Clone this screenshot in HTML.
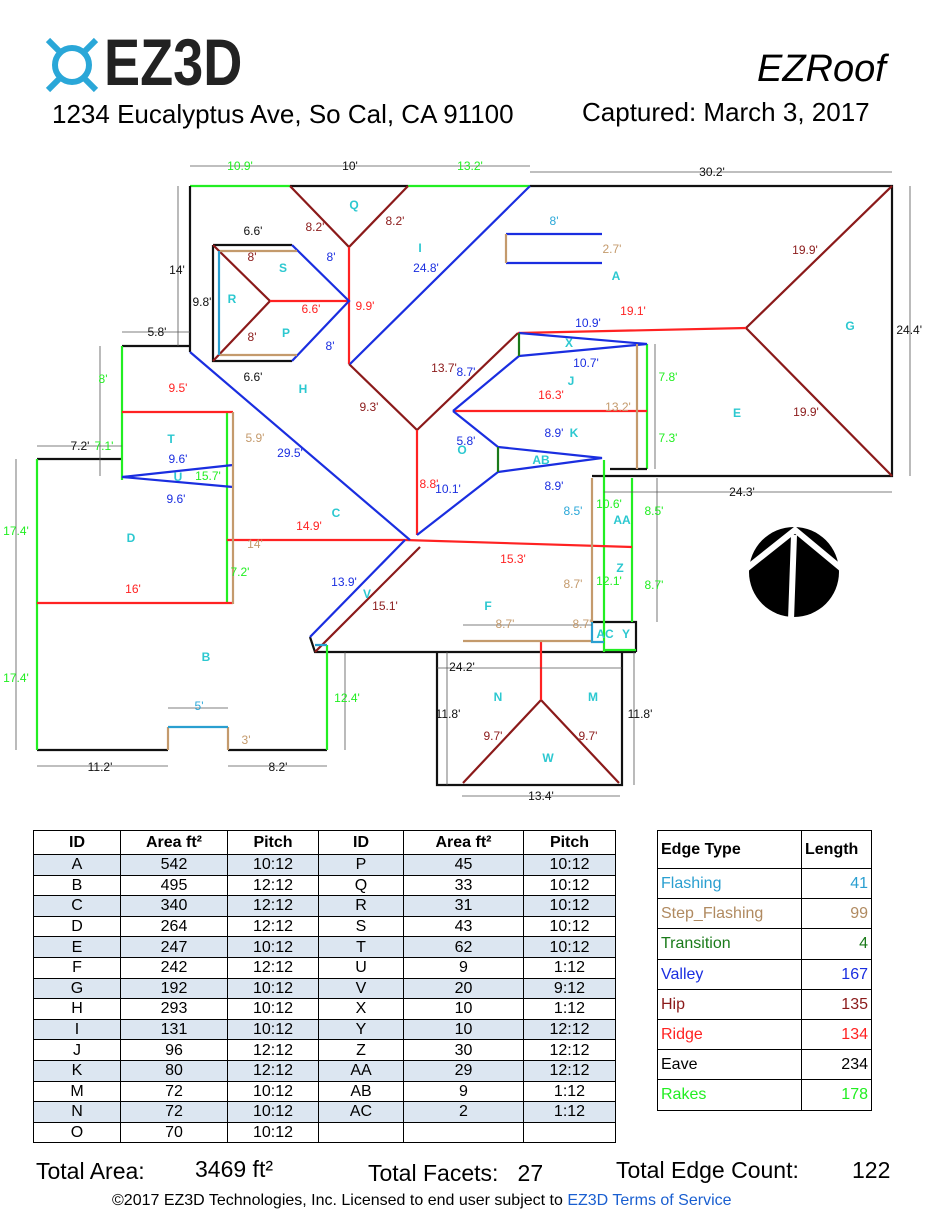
<!DOCTYPE html>
<html><head><meta charset="utf-8"><style>
body{margin:0;width:926px;height:1200px;overflow:hidden;background:#fff;font-family:"Liberation Sans",sans-serif;position:relative}
.t{position:absolute;white-space:nowrap}
table{border-collapse:collapse;position:absolute;font-size:16px;table-layout:fixed}
td{border:1px solid #000;text-align:center;padding:0;height:19.6px;line-height:19px}
tr.s td{background:#dce6f1}
th{border:1px solid #000;font-weight:bold;height:21px;font-size:16px}
#et td{height:29.2px;text-align:left;padding-left:3px;font-size:16px}
#et td.n{text-align:right;padding-right:3px}
</style></head><body>
<svg width="70" height="70" style="position:absolute;left:40px;top:32px">
<circle cx="32" cy="33" r="17" fill="none" stroke="#2aa7d8" stroke-width="6"/>
<path d="M8 8l11 11M56 8l-11 11M8 58l11-11M56 58l-11-11" stroke="#2aa7d8" stroke-width="6"/>
</svg>
<div class="t" style="left:104px;top:28px;font-size:66px;line-height:68px;color:#222;font-weight:bold;transform:scaleX(0.82);transform-origin:0 0">EZ3D</div>
<div class="t" style="left:757px;top:48px;font-size:38px;font-style:italic">EZRoof</div>
<div class="t" style="left:52px;top:99px;font-size:26px">1234 Eucalyptus Ave, So Cal, CA 91100</div>
<div class="t" style="left:582px;top:97px;font-size:26px">Captured: March 3, 2017</div>

<svg width="926" height="820" style="position:absolute;left:0;top:0" font-family="Liberation Sans" font-size="12">
<g fill="none" stroke-width="2.2">
<path d="M190 186H290M408 186H530" stroke="#2e2"/>
<path d="M290 186H408M530 186H892V476H592M190 186V352M122 346H190M37 459H122M37 750H168M228 750H327M310 637L315 652H636M437 652V785H622V652M592 622H636V652" stroke="#111"/>
<path d="M122 346V480M37 459V750M327 645V750M604 460V652M632 478V622M647 344V469M604 650H636M227 412V604" stroke="#2e2"/>
<path d="M213 245H292M213 245V361H292M610 469H647" stroke="#111"/>
<path d="M290 186L349 247L408 186M892 186L746 328L892 476M349 364L417 430L518 333M420 547L315 652M213 245L270 301L213 361M541 700L463 783M541 700L619 783" stroke="#8b1a1a"/>
<path d="M349 247V364M518 333L746 328M417 430V535M453 411H647M122 412H233M227 540H405L632 547M37 603H233M270 301H349M541 652V700M541 641V652" stroke="#f22"/>
<path d="M530 186L350 364M190 352L410 540M405 540L310 637M417 535L498 472M453 411L498 447M453 411L519 356M519 333L647 344L519 356M498 447L602 458L498 472M122 477L233 465M122 477L233 487M292 245L349 301L292 361M506 234H602M506 263H602" stroke="#1a2ee0"/>
<path d="M233 412V604M637 344V469M592 478V622M463 641H592M220 251H297M220 355H297M168 727V750M228 727V750M506 234V263" stroke="#c49a6c"/>
<path d="M219 251V355M168 727H228M592 622V642H604M315 645H327" stroke="#2a9fd0"/>
<path d="M519 333V356M498 447V472" stroke="#1a7a1a"/>
</g>
<g stroke-width="0.8" fill="none">
<path d="M190 166H290M290 166H408M408 166H530M530 172H892M178 186V346M122 332H190M37 446H122M16 459V750M37 766H168M228 766H327M437 668H622M447 652V785M634 652V785M462 796H620M910 186V476M604 492H892M100 346V476M655 344V469M657 478V622M345 652V750M168 708H228M463 625H592" stroke="#555"/>
</g>
<g fill="#111" text-anchor="middle">
<text x="240" y="170" fill="#2e2">10.9'</text><text x="350" y="170">10'</text><text x="470" y="170" fill="#2e2">13.2'</text><text x="712" y="176">30.2'</text>
<text x="177" y="274">14'</text><text x="202" y="306">9.8'</text><text x="253" y="235">6.6'</text><text x="253" y="381">6.6'</text>
<text x="157" y="336">5.8'</text><text x="80" y="450">7.2'</text><text x="104" y="450" fill="#2e2">7.1'</text>
<text x="922" y="334" text-anchor="end">24.4'</text><text x="742" y="496">24.3'</text>
<text x="16" y="535" fill="#2e2">17.4'</text><text x="16" y="682" fill="#2e2">17.4'</text>
<text x="100" y="771">11.2'</text><text x="278" y="771">8.2'</text><text x="199" y="710" fill="#2aa7d8">5'</text><text x="246" y="744" fill="#c49a6c">3'</text>
<text x="347" y="702" fill="#2e2">12.4'</text><text x="462" y="671">24.2'</text><text x="448" y="718">11.8'</text><text x="640" y="718">11.8'</text><text x="541" y="800">13.4'</text>
<text x="493" y="740" fill="#8b1a1a">9.7'</text><text x="588" y="740" fill="#8b1a1a">9.7'</text>
<text x="103" y="383" fill="#2e2">8'</text><text x="178" y="392" fill="#f22">9.5'</text><text x="255" y="442" fill="#c49a6c">5.9'</text>
<text x="178" y="463" fill="#1a2ee0">9.6'</text><text x="208" y="480" fill="#2e2">15.7'</text><text x="176" y="503" fill="#1a2ee0">9.6'</text>
<text x="290" y="457" fill="#1a2ee0">29.5'</text><text x="309" y="530" fill="#f22">14.9'</text><text x="255" y="548" fill="#c49a6c">14'</text>
<text x="240" y="576" fill="#2e2">7.2'</text><text x="133" y="593" fill="#f22">16'</text>
<text x="344" y="586" fill="#1a2ee0">13.9'</text><text x="385" y="610" fill="#8b1a1a">15.1'</text><text x="513" y="563" fill="#f22">15.3'</text>
<text x="315" y="231" fill="#8b1a1a">8.2'</text><text x="395" y="225" fill="#8b1a1a">8.2'</text><text x="252" y="261" fill="#8b1a1a">8'</text><text x="252" y="341" fill="#8b1a1a">8'</text>
<text x="331" y="261" fill="#1a2ee0">8'</text><text x="330" y="350" fill="#1a2ee0">8'</text><text x="311" y="313" fill="#f22">6.6'</text><text x="365" y="310" fill="#f22">9.9'</text>
<text x="426" y="272" fill="#1a2ee0">24.8'</text><text x="369" y="411" fill="#8b1a1a">9.3'</text><text x="444" y="372" fill="#8b1a1a">13.7'</text><text x="466" y="376" fill="#1a2ee0">8.7'</text>
<text x="429" y="488" fill="#f22">8.8'</text><text x="448" y="493" fill="#1a2ee0">10.1'</text><text x="466" y="445" fill="#1a2ee0">5.8'</text>
<text x="633" y="315" fill="#f22">19.1'</text><text x="588" y="327" fill="#1a2ee0">10.9'</text><text x="586" y="367" fill="#1a2ee0">10.7'</text><text x="551" y="399" fill="#f22">16.3'</text><text x="618" y="411" fill="#c49a6c">13.2'</text>
<text x="668" y="381" fill="#2e2">7.8'</text><text x="668" y="442" fill="#2e2">7.3'</text><text x="554" y="437" fill="#1a2ee0">8.9'</text><text x="554" y="490" fill="#1a2ee0">8.9'</text>
<text x="573" y="515" fill="#2aa7d8">8.5'</text><text x="609" y="508" fill="#2e2">10.6'</text><text x="654" y="515" fill="#2e2">8.5'</text>
<text x="573" y="588" fill="#c49a6c">8.7'</text><text x="609" y="585" fill="#2e2">12.1'</text><text x="654" y="589" fill="#2e2">8.7'</text>
<text x="505" y="628" fill="#c49a6c">8.7'</text><text x="582" y="628" fill="#c49a6c">8.7'</text>
<text x="612" y="253" fill="#c49a6c">2.7'</text><text x="554" y="225" fill="#2aa7d8">8'</text>
<text x="805" y="254" fill="#8b1a1a">19.9'</text><text x="806" y="416" fill="#8b1a1a">19.9'</text>
</g>
<g fill="#2cc8d0" font-weight="bold" font-size="12" text-anchor="middle">
<text x="616" y="280">A</text><text x="206" y="661">B</text><text x="336" y="517">C</text><text x="131" y="542">D</text><text x="737" y="417">E</text><text x="488" y="610">F</text><text x="850" y="330">G</text><text x="303" y="393">H</text><text x="420" y="252">I</text><text x="571" y="385">J</text><text x="574" y="437">K</text><text x="498" y="701">N</text><text x="593" y="701">M</text><text x="462" y="454">O</text><text x="286" y="337">P</text><text x="354" y="209">Q</text><text x="232" y="303">R</text><text x="283" y="272">S</text><text x="171" y="443">T</text><text x="178" y="481">U</text><text x="367" y="598">V</text><text x="548" y="762">W</text><text x="569" y="347">X</text><text x="626" y="638">Y</text><text x="620" y="572">Z</text><text x="622" y="524">AA</text><text x="541" y="464">AB</text><text x="605" y="638">AC</text>
</g>
<circle cx="794" cy="572" r="45" fill="#000"/>
<path d="M746 569L795 530L842 569M794 535L791 620" stroke="#fff" stroke-width="6" fill="none"/>
</svg>

<table style="left:33px;top:830px;width:583px">
<colgroup><col style="width:87px"><col style="width:107px"><col style="width:91px"><col style="width:85px"><col style="width:120px"><col style="width:92px"></colgroup>
<tr><th>ID</th><th>Area ft²</th><th>Pitch</th><th>ID</th><th>Area ft²</th><th>Pitch</th></tr>
<tr class="s"><td>A</td><td>542</td><td>10:12</td><td>P</td><td>45</td><td>10:12</td></tr>
<tr><td>B</td><td>495</td><td>12:12</td><td>Q</td><td>33</td><td>10:12</td></tr>
<tr class="s"><td>C</td><td>340</td><td>12:12</td><td>R</td><td>31</td><td>10:12</td></tr>
<tr><td>D</td><td>264</td><td>12:12</td><td>S</td><td>43</td><td>10:12</td></tr>
<tr class="s"><td>E</td><td>247</td><td>10:12</td><td>T</td><td>62</td><td>10:12</td></tr>
<tr><td>F</td><td>242</td><td>12:12</td><td>U</td><td>9</td><td>1:12</td></tr>
<tr class="s"><td>G</td><td>192</td><td>10:12</td><td>V</td><td>20</td><td>9:12</td></tr>
<tr><td>H</td><td>293</td><td>10:12</td><td>X</td><td>10</td><td>1:12</td></tr>
<tr class="s"><td>I</td><td>131</td><td>10:12</td><td>Y</td><td>10</td><td>12:12</td></tr>
<tr><td>J</td><td>96</td><td>12:12</td><td>Z</td><td>30</td><td>12:12</td></tr>
<tr class="s"><td>K</td><td>80</td><td>12:12</td><td>AA</td><td>29</td><td>12:12</td></tr>
<tr><td>M</td><td>72</td><td>10:12</td><td>AB</td><td>9</td><td>1:12</td></tr>
<tr class="s"><td>N</td><td>72</td><td>10:12</td><td>AC</td><td>2</td><td>1:12</td></tr>
<tr><td>O</td><td>70</td><td>10:12</td><td></td><td></td><td></td></tr>
</table>
<table id="et" style="left:657px;top:830px;width:214px">
<colgroup><col style="width:144px"><col style="width:70px"></colgroup>
<tr><td style="height:37px;font-weight:bold">Edge Type</td><td style="font-weight:bold">Length</td></tr>
<tr><td style="color:#2a9fd0">Flashing</td><td class="n" style="color:#2a9fd0">41</td></tr>
<tr><td style="color:#b08a60">Step_Flashing</td><td class="n" style="color:#b08a60">99</td></tr>
<tr><td style="color:#1a7a1a">Transition</td><td class="n" style="color:#1a7a1a">4</td></tr>
<tr><td style="color:#1a2ee0">Valley</td><td class="n" style="color:#1a2ee0">167</td></tr>
<tr><td style="color:#8b1a1a">Hip</td><td class="n" style="color:#8b1a1a">135</td></tr>
<tr><td style="color:#f22">Ridge</td><td class="n" style="color:#f22">134</td></tr>
<tr><td>Eave</td><td class="n">234</td></tr>
<tr><td style="color:#2e2">Rakes</td><td class="n" style="color:#2e2">178</td></tr>
</table>
<div class="t" style="left:36px;top:1158px;font-size:23px">Total Area:</div>
<div class="t" style="left:195px;top:1156px;font-size:23px">3469 ft²</div>
<div class="t" style="left:368px;top:1160px;font-size:23px">Total Facets:&nbsp;&nbsp;&nbsp;27</div>
<div class="t" style="left:616px;top:1157px;font-size:23px">Total Edge Count:</div>
<div class="t" style="left:852px;top:1157px;font-size:23px">122</div>
<div class="t" style="left:112px;top:1192px;font-size:16px">©2017 EZ3D Technologies, Inc. Licensed to end user subject to <span style="color:#1a5fd0">EZ3D Terms of Service</span></div>
</body></html>
